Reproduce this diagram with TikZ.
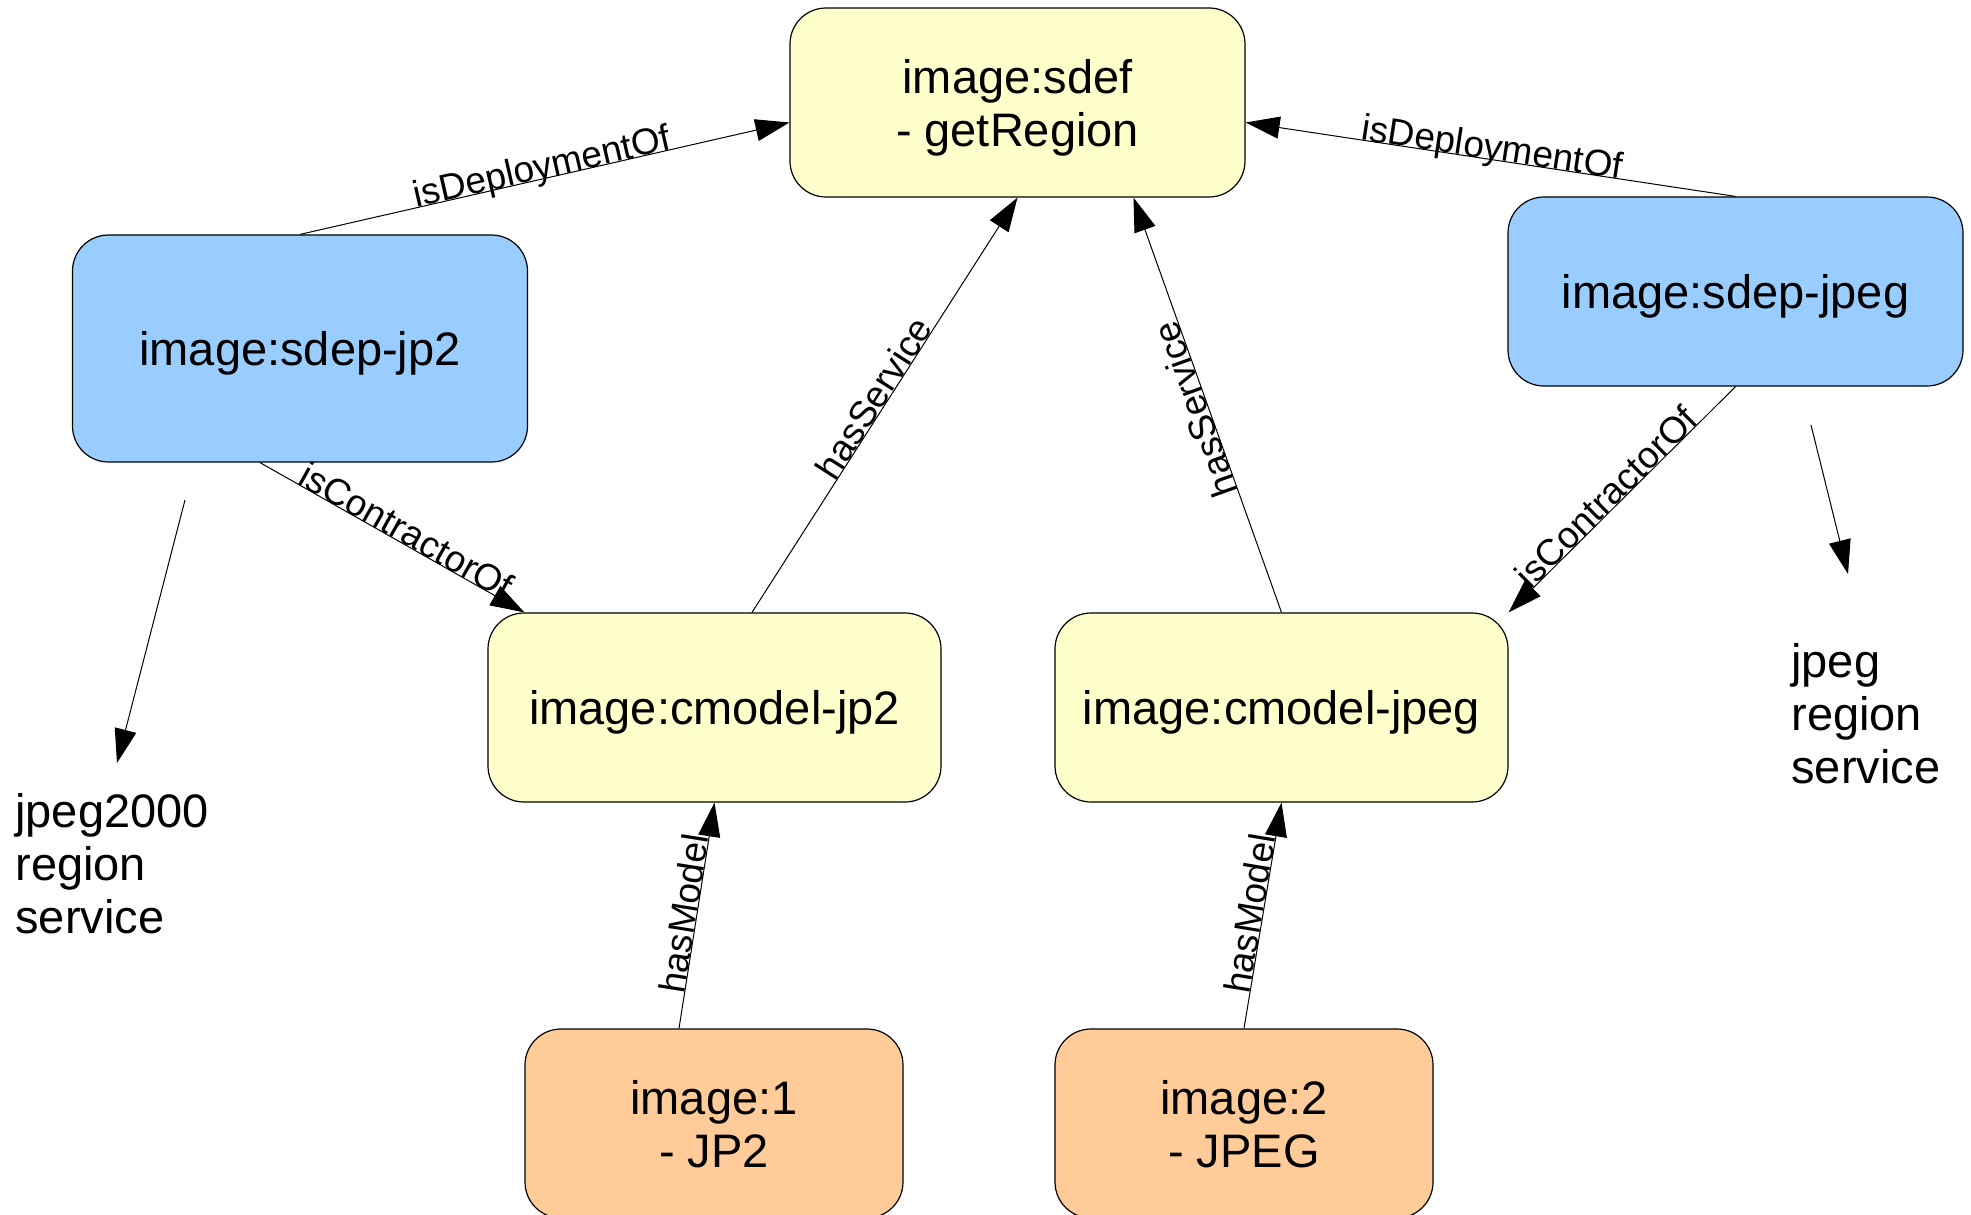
\documentclass[tikz,border=0pt]{standalone}
\usepackage{fontspec}
\setmainfont{Liberation Sans}
\usetikzlibrary{arrows.meta}
\definecolor{defyellow}{HTML}{FFFFCC}
\definecolor{depblue}{HTML}{99CCFF}
\definecolor{objorange}{HTML}{FFCC99}
\begin{document}
\begin{tikzpicture}[x=0.5pt,y=-0.5pt,
  box/.style={draw=black, line width=0.6pt, rounded corners=18pt,
    minimum width=227.5pt, minimum height=94.5pt, inner sep=0pt,
    text depth=0pt, align=center, font=\fontsize{23.5pt}{26.5pt}\selectfont},
  defbox/.style={box, fill=defyellow},
  depbox/.style={box, fill=depblue},
  objbox/.style={box, fill=objorange, minimum width=189pt},
  rel/.style={draw, line width=0.5pt, -{Triangle[length=17pt,width=11pt]}},
  lbl/.style={sloped, anchor=base, inner sep=0pt, pos=0.5,
    font=\fontsize{18.5pt}{22pt}\selectfont},
  note/.style={align=left, anchor=north west, inner sep=0pt,
    font=\fontsize{23.5pt}{26.5pt}\selectfont}
]
\useasboundingbox (0,0) rectangle (1971,1215);

% service definition
\node[defbox] (sdef) at (1017.5,102.5) {image:sdef\\- getRegion};

% service deployments
\node[depbox, minimum height=113.5pt] (sdepjp2) at (300,348.5) {image:sdep-jp2};
\node[depbox] (sdepjpeg) at (1735.5,291.5) {image:sdep-jpeg};

% content models
\node[defbox, minimum width=226.5pt] (cmjp2) at (714.5,707.5) {image:cmodel-jp2};
\node[defbox, minimum width=226.5pt] (cmjpeg) at (1281.5,707.5) {image:cmodel-jpeg};

% data objects
\node[objbox] (img1) at (714,1123.5) {image:1\\- JP2};
\node[objbox] (img2) at (1244,1123.5) {image:2\\- JPEG};

% service notes
\node[note] (jp2note) at (15,793) {jpeg2000\\region\\service};
\node[note] (jpegnote) at (1791,643) {jpeg\\region\\service};
\coordinate (jp2tail) at (185,500);
\coordinate (jp2tip) at (117,763);
\coordinate (jpegtail) at (1811,425);
\coordinate (jpegtip) at (1848,574);

% relations
\draw[rel] (sdepjp2.north) -- ([yshift=-10pt]sdef.west)
  node[lbl] {isDeploymentOf};
\draw[rel] (sdepjpeg.north) -- ([yshift=-10pt]sdef.east)
  node[lbl] {isDeploymentOf};
\draw[rel] ([xshift=-20pt]sdepjp2.south) -- ([xshift=18.5pt]cmjp2.north west)
  node[lbl, pos=0.53] {isContractorOf};
\draw[rel] (sdepjpeg.south) -- (cmjpeg.north east)
  node[lbl, pos=0.53] {isContractorOf};
\draw[rel] ([xshift=18.75pt]cmjp2.north) -- (sdef.south)
  node[lbl] {hasService};
\draw[rel] (cmjpeg.north) -- ([xshift=58pt]sdef.south)
  node[lbl, allow upside down] {hasService};
\draw[rel] ([xshift=-17.5pt]img1.north) -- (cmjp2.south)
  node[lbl] {hasModel};
\draw[rel] (img2.north) -- (cmjpeg.south)
  node[lbl] {hasModel};
\draw[rel] (jp2tail) -- (jp2tip);
\draw[rel] (jpegtail) -- (jpegtip);
\end{tikzpicture}
\end{document}
